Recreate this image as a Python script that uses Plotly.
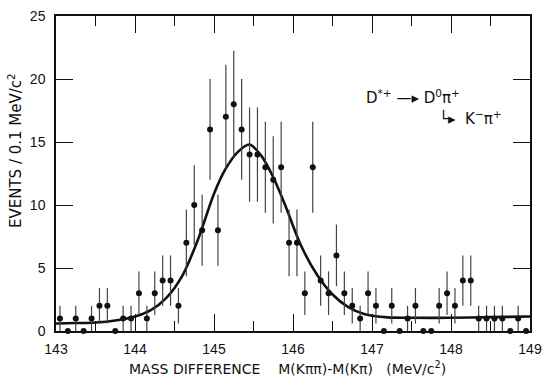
import numpy as np
import plotly.graph_objects as go

# ---- data ----
bin_centers = [143.05, 143.15, 143.25, 143.35, 143.45, 143.55, 143.65, 143.75, 143.85, 143.95,
               144.05, 144.15, 144.25, 144.35, 144.45, 144.55, 144.65, 144.75, 144.85, 144.95,
               145.05, 145.15, 145.25, 145.35, 145.45, 145.55, 145.65, 145.75, 145.85, 145.95,
               146.05, 146.15, 146.25, 146.35, 146.45, 146.55, 146.65, 146.75, 146.85, 146.95,
               147.05, 147.15, 147.25, 147.35, 147.45, 147.55, 147.65, 147.75, 147.85, 147.95,
               148.05, 148.15, 148.25, 148.35, 148.45, 148.55, 148.65, 148.75, 148.85, 148.95]
counts = [1, 0, 1, 0, 1, 2, 2, 0, 1, 1,
          3, 1, 3, 4, 4, 2, 7, 10, 8, 16,
          8, 17, 18, 16, 14, 14, 13, 12, 13, 7,
          7, 3, 13, 4, 3, 6, 3, 2, 1, 3,
          2, 0, 2, 0, 1, 2, 0, 0, 2, 3,
          2, 4, 4, 1, 1, 1, 1, 0, 1, 0]
errors = [float(np.sqrt(c)) for c in counts]

fit_mass = [143.0, 143.25, 143.5, 143.75, 144.0, 144.2, 144.4, 144.6, 144.8, 145.0,
            145.15, 145.3, 145.45, 145.6, 145.75, 145.9, 146.1, 146.3, 146.5, 146.7,
            146.9, 147.2, 147.5, 148.0, 148.5, 149.0]
fit_events = [0.60, 0.63, 0.68, 0.84, 1.15, 1.65, 2.65, 4.4, 7.3, 10.9,
              12.9, 14.2, 14.8, 13.9, 12.2, 10.0, 6.8, 4.5, 2.9, 1.9,
              1.35, 1.08, 1.05, 1.05, 1.1, 1.15]

FONT = "Liberation Sans, Arial, sans-serif"
TFONT = "DejaVu Sans, sans-serif"
INK = "#111111"

fig = go.Figure()
fig.add_trace(go.Scatter(
    x=fit_mass, y=fit_events, mode="lines",
    line=dict(color=INK, width=2.6, shape="spline", smoothing=0.8),
    hoverinfo="skip", showlegend=False))
fig.add_trace(go.Scatter(
    x=bin_centers, y=counts, mode="markers",
    marker=dict(color=INK, size=6),
    error_y=dict(type="data", array=errors, color="#444444", thickness=1.2, width=0),
    cliponaxis=False, showlegend=False))

fig.update_layout(
    width=546, height=379,
    margin=dict(l=56, r=16, t=16, b=48, autoexpand=False),
    paper_bgcolor="white", plot_bgcolor="white",
    font=dict(family=FONT, color=INK),
    xaxis=dict(range=[143, 149], tickmode="linear", tick0=143, dtick=1,
               ticks="inside", ticklen=17, tickwidth=1.3, tickcolor=INK,
               showline=True, linecolor=INK, linewidth=1.5, mirror="allticks",
               showgrid=False, zeroline=False, automargin=False,
               ticklabelstandoff=4,
               minor=dict(dtick=0.5, tick0=143, ticks="inside", ticklen=10,
                          tickwidth=1.2, tickcolor=INK, showgrid=False),
               tickfont=dict(size=14, family=FONT, color=INK)),
    yaxis=dict(range=[0, 25], tickmode="linear", tick0=0, dtick=5,
               ticks="inside", ticklen=17, tickwidth=1.3, tickcolor=INK,
               showline=True, linecolor=INK, linewidth=1.5, mirror="allticks",
               showgrid=False, zeroline=False, automargin=False,
               ticklabelstandoff=6,
               tickfont=dict(size=14, family=FONT, color=INK)),
)

fig.add_annotation(
    text="MASS\u00a0DIFFERENCE\u00a0\u00a0\u00a0\u00a0M(K\u03c0\u03c0)-M(K\u03c0)\u00a0\u00a0\u00a0(MeV/c<sup>2</sup>)",
    xref="paper", yref="paper", x=(287 - 56) / 474, y=-(368 - 331) / 315,
    xanchor="center", yanchor="middle", showarrow=False,
    font=dict(size=14, family=TFONT, color=INK))
fig.add_annotation(
    text="EVENTS\u00a0/\u00a00.1\u00a0MeV/c<sup>2</sup>",
    xref="paper", yref="paper", x=(15 - 56) / 474, y=(331 - 151) / 315,
    xanchor="center", yanchor="middle", textangle=-90, showarrow=False,
    font=dict(size=15, family=TFONT, color=INK))
fig.add_annotation(
    text="D<sup>*+</sup>\u00a0\u2014\u25b8\u00a0D<sup>0</sup>\u03c0<sup>+</sup>",
    xref="paper", yref="paper", x=(364 - 56) / 474, y=(331 - 97) / 315,
    xanchor="left", yanchor="middle", showarrow=False,
    font=dict(size=15, family=TFONT, color=INK))
fig.add_annotation(
    text="\u2514\u25b8\u00a0\u00a0K<sup>\u2212</sup>\u03c0<sup>+</sup>",
    xref="paper", yref="paper", x=(437 - 56) / 474, y=(331 - 118) / 315,
    xanchor="left", yanchor="middle", showarrow=False,
    font=dict(size=15, family=TFONT, color=INK))

fig.write_html("out.html")
